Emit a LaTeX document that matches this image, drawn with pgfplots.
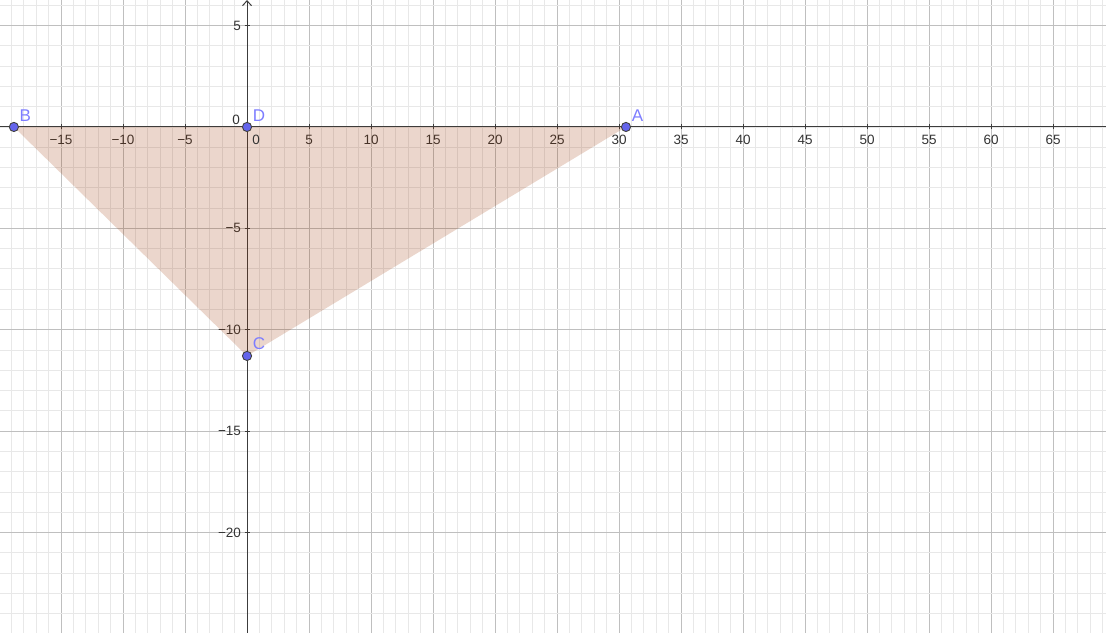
\documentclass[border=0pt]{standalone}
\usepackage{fontspec}
\setmainfont{Liberation Sans}
\usepackage{pgfplots}
\pgfplotsset{compat=1.18}
\usetikzlibrary{arrows.meta}
\definecolor{ptblue}{RGB}{100,100,235}
\definecolor{lblblue}{RGB}{125,125,255}
\definecolor{polybrown}{RGB}{153,51,0}
\definecolor{axcol}{RGB}{60,60,60}
\pgfplotsset{
  layers/geo/.define layer set={axis background,axis grid,main,axis ticks,axis lines,axis tick labels,axis descriptions,axis foreground}{},
}
\begin{document}
\begin{tikzpicture}
\begin{axis}[
  set layers=geo,
  scale only axis,
  width=1106pt, height=633pt,
  xmin=-19.92, xmax=69.27,
  ymin=-24.95, ymax=6.26,
  axis lines=middle,
  x axis line style={-, axcol, line width=1pt},
  y axis line style={-{Straight Barb[length=5pt,width=9pt]}, axcol, line width=1pt},
  xtick={-15,-10,-5,5,10,15,20,25,30,35,40,45,50,55,60,65},
  xticklabels={−15,−10,−5,5,10,15,20,25,30,35,40,45,50,55,60,65},
  ytick={-20,-15,-10,-5,5},
  yticklabels={−20,−15,−10,−5,5},
  minor xtick={-19,-18,...,69},
  minor ytick={-24,-23,...,6},
  grid=both,
  major grid style={color=black!25, line width=0.9pt},
  minor grid style={color=black!9, line width=0.9pt},
  major tick length=5pt, minor tick length=0pt,
  tick style={axcol, line width=0.9pt},
  tick align=center,
  ticklabel style={font=\fontsize{13.5}{15}\selectfont, text=black!80},
  xticklabel style={yshift=-2pt},
  clip=false,
]
\coordinate (sw) at (rel axis cs:0,0);
\coordinate (ne) at (rel axis cs:1,1);
\addplot[fill=polybrown, fill opacity=0.2, draw=none] coordinates {(-18.8,0) (30.56,0) (0,-11.29)} -- cycle;
\addplot[on layer=axis foreground, only marks, mark=*, mark size=4.6pt,
  mark options={fill=ptblue, draw=black!75, line width=0.9pt},
  point meta=explicit symbolic,
  nodes near coords,
  every node near coord/.append style={anchor=south west, xshift=2pt, yshift=2pt,
    text=lblblue, font=\fontsize{17}{19}\selectfont}]
  coordinates {(30.56,0) [A] (-18.8,0) [B] (0,-11.29) [C] (0,0) [D]};
\node[anchor=north west, font=\fontsize{13.5}{15}\selectfont, text=black!80] at (axis cs:0.15,-0.25) {0};
\node[anchor=south east, font=\fontsize{13.5}{15}\selectfont, text=black!80] at (axis cs:-0.3,-0.05) {0};
\end{axis}
\pgfresetboundingbox
\path[use as bounding box] (sw) rectangle (ne);
\end{tikzpicture}
\end{document}
